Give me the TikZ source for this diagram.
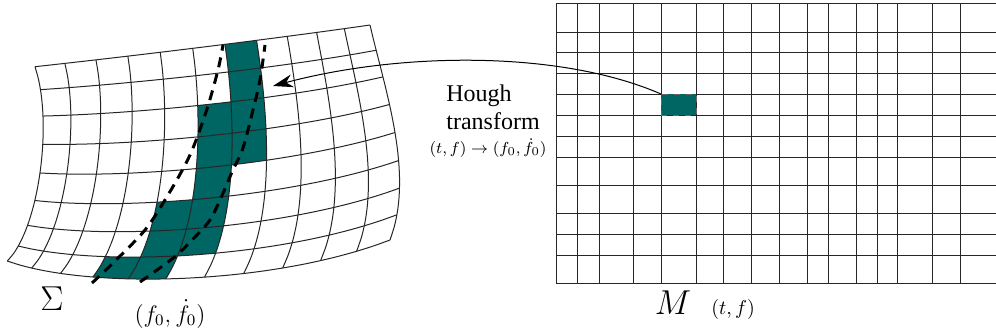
\documentclass[tikz,border=0pt]{standalone}
\usepackage{fontspec}
\setmainfont{Liberation Serif}
\usetikzlibrary{arrows.meta,positioning}
\definecolor{houghteal}{RGB}{0,102,99}

\begin{document}
\begin{tikzpicture}[
  x=0.5pt, y=-0.5pt,
  gridline/.style={line width=0.5pt, black!85},
  cellfill/.style={fill=houghteal},
  trackline/.style={line width=1.5pt, dash pattern=on 5pt off 3.5pt},
  hcellbox/.style={fill=houghteal, draw=black!60, dashed, line width=0.4pt, inner sep=0pt, minimum width=17.5pt, minimum height=10.5pt},
  arr/.style={-{Stealth[length=10pt,width=6.5pt]}, line width=0.5pt},
  declare function={
    bz(\s,\pa,\pb,\pc,\pd)=(1-\s)^3*\pa+3*\s*(1-\s)^2*\pb+3*\s^2*(1-\s)*\pc+\s^3*\pd;
    tx(\s)=bz(\s,35,142,280,370);    ty(\s)=bz(\s,66.7,55,38,25);
    bx(\s)=bz(\s,7.3,87.6,273.4,390); by(\s)=bz(\s,261,290,285,240);
    lx(\s)=bz(\s,35,53.7,38.8,7.3);   ly(\s)=bz(\s,66.7,122,230,261);
    rx(\s)=bz(\s,370,385,415,390);    ry(\s)=bz(\s,25,90,175,240);
    gx(\pu,\pv)=(1-\pv)*tx(\pu)+\pv*bx(\pu)+(1-\pu)*lx(\pv)+\pu*rx(\pv)-((1-\pu)*(1-\pv)*35+\pu*(1-\pv)*370+(1-\pu)*\pv*7.3+\pu*\pv*390);
    gy(\pu,\pv)=(1-\pv)*ty(\pu)+\pv*by(\pu)+(1-\pu)*ly(\pv)+\pu*ry(\pv)-((1-\pu)*(1-\pv)*66.7+\pu*(1-\pv)*25+(1-\pu)*\pv*261+\pu*\pv*240);
  }
]
\useasboundingbox (0,0) rectangle (996,334);

% curved (f0, f0dot) grid
\foreach \col/\row in {6/0,6/1,6/2,6/3,5/2,5/3,5/4,5/5,5/6,4/5,4/6,4/7,3/7} {
  \pgfmathsetmacro\ua{\col/11}
  \pgfmathsetmacro\ub{(\col+1)/11}
  \pgfmathsetmacro\va{\row/8}
  \pgfmathsetmacro\vb{(\row+1)/8}
  \fill[cellfill] plot[variable=\q, domain=\ua:\ub, samples=4] ({gx(\q,\va)},{gy(\q,\va)})
    -- plot[variable=\q, domain=\va:\vb, samples=4] ({gx(\ub,\q)},{gy(\ub,\q)})
    -- plot[variable=\q, domain=\ub:\ua, samples=4] ({gx(\q,\vb)},{gy(\q,\vb)})
    -- plot[variable=\q, domain=\vb:\va, samples=4] ({gx(\ua,\q)},{gy(\ua,\q)}) -- cycle;
}
\foreach \i in {0,...,11}
  \draw[gridline] plot[smooth, variable=\q, domain=0:1, samples=15] ({gx(\i/11,\q)},{gy(\i/11,\q)});
\foreach \j in {0,...,8}
  \draw[gridline] plot[smooth, variable=\q, domain=0:1, samples=23] ({gx(\q,\j/8)},{gy(\q,\j/8)});
\draw[trackline] plot[smooth] coordinates {(92,283) (113,263) (145,230) (168,195) (190,155) (206.7,110) (218,70) (223,45)};
\draw[trackline] plot[smooth] coordinates {(140,282) (157,270) (177,255) (195,237) (210,220) (220,200) (232,172) (243,148) (253,110) (260,80) (265,45)};

% (t, f) grid
\foreach \x in {556,577,599,633,661,696,723,751,779,807,828,856,877,897,932,960}
  \draw[gridline] (\x,3) -- (\x,283);
\foreach \y in {3,32,52,73,94,115,136,157,185,213,234,255,283}
  \draw[gridline] (556,\y) -- (996,\y);
\node[hcellbox, anchor=north west] (hcell) at (661,94) {};

\coordinate (tip) at (273,86);
\draw[arr] (hcell.north west) .. controls (560,50) and (400,52) .. (tip);

\node[anchor=north west, inner sep=0pt, align=left, font=\large] (hough) at (446,84) {Hough\\transform};
\node[below=1pt of hough, xshift=-2.5pt, font=\footnotesize] (houghmap) {$(t,f)\to(f_0,\dot{f}_0)$};

\node[font=\LARGE] (sigma) at (52,299) {$\Sigma$};
\node[font=\large] (f0label) at (170,314) {$(f_0,\dot{f}_0)$};
\node[font=\LARGE] (mlabel) at (673,303) {$M$};
\node[base right=3pt of mlabel] (tflabel) {$(t,f)$};
\end{tikzpicture}
\end{document}
